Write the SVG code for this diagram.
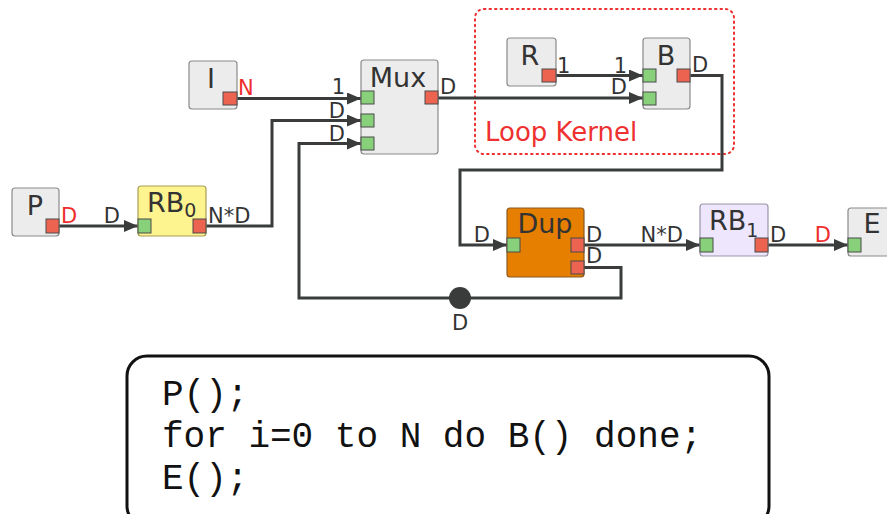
<svg xmlns="http://www.w3.org/2000/svg" width="887" height="514" viewBox="0 0 887 514">
<style>
.node{fill:#ececec;stroke:#8a8a8a;stroke-width:1.2}
.pin{fill:#88d17a;stroke:#4a4a4a;stroke-width:1}
.pout{fill:#ec6450;stroke:#4a4a4a;stroke-width:1}
.w{fill:none;stroke:#3a3c3c;stroke-width:3}
.lbl{font-family:"DejaVu Sans",sans-serif;font-size:27px;fill:#333}
.pl{font-family:"DejaVu Sans",sans-serif;font-size:21px;fill:#333}
.red{fill:#ee2d2d}
.sub{font-size:19px}
.code{font-family:"Liberation Mono",monospace;font-size:36px;fill:#111}
</style>
<defs>
<marker id="arr" markerUnits="userSpaceOnUse" markerWidth="14" markerHeight="12" refX="14" refY="6" orient="auto">
<path d="M0,0 L14,6 L0,12 z" fill="#3a3c3c"/>
</marker>
</defs>
<rect x="475" y="9" width="259" height="145" rx="9" fill="none" stroke="#ee3030" stroke-width="2" stroke-dasharray="1.5,4" stroke-linecap="round"/>
<text x="485" y="141" font-family="DejaVu Sans,sans-serif" font-size="26" fill="#ee3030">Loop Kernel</text>
<g id="connectors">
<path class="w" d="M237,98.5 H361" marker-end="url(#arr)"/>
<path class="w" d="M438,98 H643" marker-end="url(#arr)"/>
<path class="w" d="M556,75.5 H643" marker-end="url(#arr)"/>
<path class="w" d="M690,75.5 H722 V170 H460 V245 H507" marker-end="url(#arr)"/>
<path class="w" d="M59,226 H138" marker-end="url(#arr)"/>
<path class="w" d="M206,226 H272 V120.5 H361" marker-end="url(#arr)"/>
<path class="w" d="M584,267.5 H621 V298 H299 V143.5 H361" marker-end="url(#arr)"/>
<path class="w" d="M584,245 H700" marker-end="url(#arr)"/>
<path class="w" d="M768,245 H848" marker-end="url(#arr)"/>
<circle cx="460" cy="298" r="11" fill="#3a3c3c"/>
<text class="pl" x="460" y="330" text-anchor="middle">D</text>
</g>
<g id="I">
<rect class="node" x="189" y="61" width="48" height="48" rx="3"/>
<text class="lbl" x="211" y="88" text-anchor="middle">I</text>
<rect class="pout" x="223" y="92" width="14" height="13"/>
<text class="pl red" x="238" y="95">N</text>
</g>
<g id="Mux">
<rect class="node" x="361" y="60" width="77" height="94" rx="3"/>
<text class="lbl" x="398" y="87" text-anchor="middle">Mux</text>
<rect class="pin" x="361" y="91" width="13" height="13"/>
<rect class="pin" x="361" y="114" width="13" height="13"/>
<rect class="pin" x="361" y="137" width="13" height="13"/>
<rect class="pout" x="425" y="91" width="13" height="13"/>
<text class="pl" x="345" y="94" text-anchor="end">1</text>
<text class="pl" x="345" y="118" text-anchor="end">D</text>
<text class="pl" x="345" y="141" text-anchor="end">D</text>
<text class="pl" x="440" y="94">D</text>
</g>
<g id="R">
<rect class="node" x="507" y="38" width="49" height="48" rx="3"/>
<text class="lbl" x="530" y="65" text-anchor="middle">R</text>
<rect class="pout" x="542" y="69" width="14" height="13"/>
<text class="pl" x="557" y="73">1</text>
</g>
<g id="B">
<rect class="node" x="643" y="38" width="47" height="71" rx="3"/>
<text class="lbl" x="666" y="65" text-anchor="middle">B</text>
<rect class="pin" x="643" y="69" width="13" height="13"/>
<rect class="pin" x="643" y="92" width="13" height="13"/>
<rect class="pout" x="677" y="69" width="13" height="13"/>
<text class="pl" x="627" y="73" text-anchor="end">1</text>
<text class="pl" x="627" y="94" text-anchor="end">D</text>
<text class="pl" x="692" y="72">D</text>
</g>
<g id="P">
<rect class="node" x="12" y="188" width="47" height="48" rx="3"/>
<text class="lbl" x="35" y="215" text-anchor="middle">P</text>
<rect class="pout" x="46" y="219" width="13" height="14"/>
<text class="pl red" x="61" y="223">D</text>
</g>
<g id="RB0">
<rect x="138" y="186" width="68" height="50" rx="3" fill="#fdf38f" stroke="#a89e50" stroke-width="1.2"/>
<text class="lbl" x="147" y="212">RB<tspan class="sub" dy="5">0</tspan></text>
<rect class="pin" x="138" y="219" width="13" height="14"/>
<rect class="pout" x="193" y="219" width="13" height="14"/>
<text class="pl" x="120" y="223" text-anchor="end">D</text>
<text class="pl" x="208" y="223">N*D</text>
</g>
<g id="Dup">
<rect x="507" y="208" width="77" height="69" rx="3" fill="#e67e00" stroke="#8a5a20" stroke-width="1.2"/>
<text class="lbl" x="545" y="233" text-anchor="middle">Dup</text>
<rect class="pin" x="507" y="238" width="13" height="14"/>
<rect class="pout" x="571" y="238" width="13" height="14"/>
<rect class="pout" x="571" y="261" width="13" height="13"/>
<text class="pl" x="490" y="242" text-anchor="end">D</text>
<text class="pl" x="586" y="242">D</text>
<text class="pl" x="586" y="263">D</text>
</g>
<g id="RB1">
<rect x="700" y="204" width="68" height="52" rx="3" fill="#eee6fd" stroke="#9a94a8" stroke-width="1.2"/>
<text class="lbl" x="709" y="230">RB<tspan class="sub" dy="7">1</tspan></text>
<rect class="pin" x="700" y="238" width="13" height="14"/>
<rect class="pout" x="755" y="238" width="13" height="14"/>
<text class="pl" x="683" y="242" text-anchor="end">N*D</text>
<text class="pl" x="770" y="242">D</text>
</g>
<g id="E">
<rect class="node" x="848" y="208" width="50" height="48" rx="3"/>
<text class="lbl" x="872" y="233" text-anchor="middle">E</text>
<rect class="pin" x="848" y="238" width="13" height="14"/>
<text class="pl red" x="831" y="242" text-anchor="end">D</text>
</g>
<g id="code">
<rect x="127" y="356" width="642" height="170" rx="20" fill="#fff" stroke="#111" stroke-width="3"/>
<text class="code" x="162" y="405">P();</text>
<text class="code" x="162" y="447">for i=0 to N do B() done;</text>
<text class="code" x="162" y="489">E();</text>
</g>
</svg>
